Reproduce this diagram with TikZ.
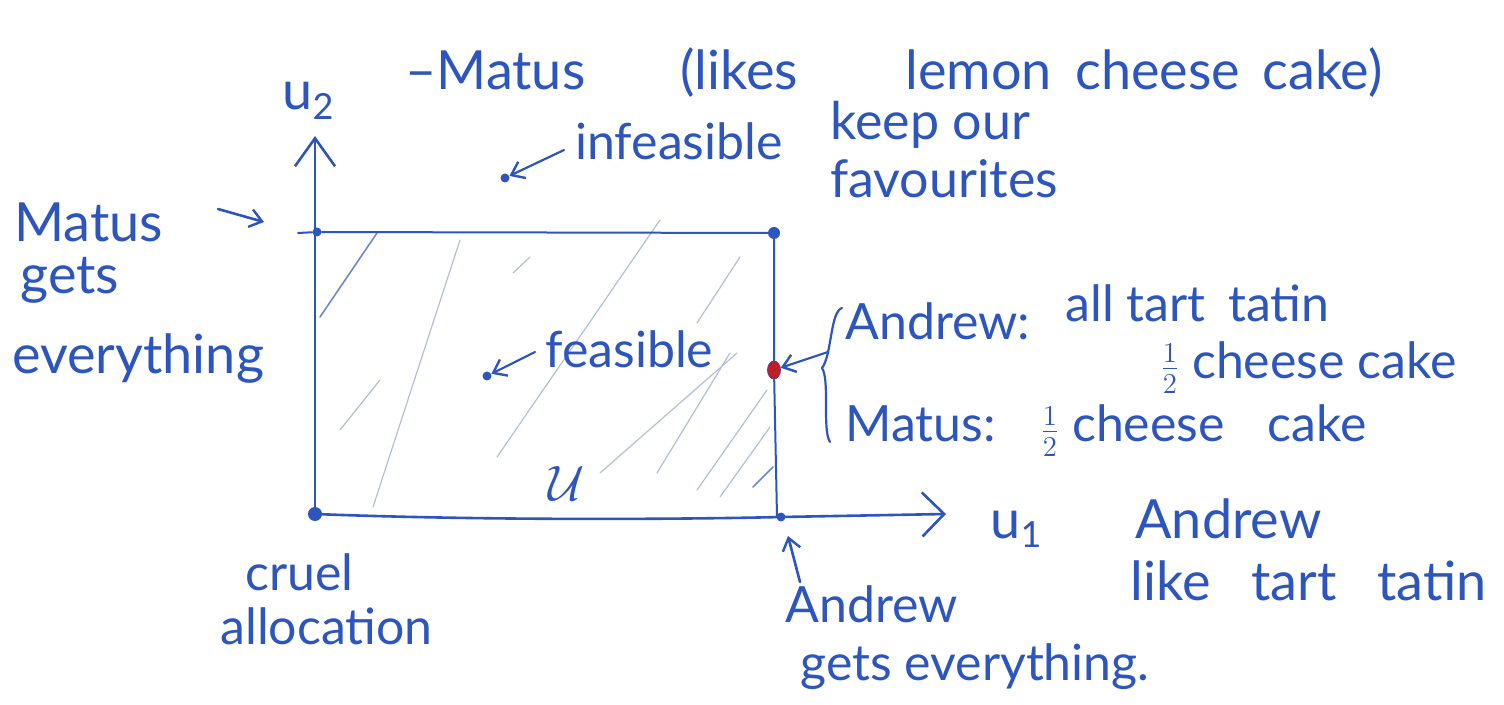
\documentclass[tikz,border=0pt]{standalone}
\usepackage{fontspec}
\setmainfont{Lato}
\usetikzlibrary{arrows.meta,shapes.geometric}
\definecolor{ink}{RGB}{45,85,190}
\definecolor{hatch}{RGB}{180,190,218}
\definecolor{reddot}{RGB}{190,30,40}
\newcommand{\halfsym}{{\fontsize{21}{21}\selectfont$\frac{1}{2}$}}
\tikzset{
  hw/.style={text=ink, anchor=base west, inner sep=0pt, font=\fontsize{25}{30}\selectfont},
  hwbig/.style={hw, font=\fontsize{27}{30}\selectfont},
  inkline/.style={draw=ink, line width=1.3pt, line cap=round, line join=round},
  hatchline/.style={draw=hatch, line width=0.6pt, line cap=round},
  ybarb/.style={-{Straight Barb[length=14pt,width=20pt,line width=1.3pt]}},
  xbarb/.style={-{Straight Barb[length=11pt,width=22pt,line width=1.3pt]}},
  smallbarb/.style={-{Straight Barb[length=6pt,width=9pt,line width=1.2pt]}},
  dot/.style={circle, fill=ink, inner sep=0pt},
}
\begin{document}
\begin{tikzpicture}[x=0.5pt,y=-0.5pt]
\useasboundingbox (0,0) rectangle (1504,705);
\fill[white] (0,0) rectangle (1504,705);

% hatching
\draw[hatchline] (373,507) -- (460,240);
\draw[hatchline] (497,457) -- (660,220);
\draw[hatchline] (513,273) -- (530,257);
\draw[hatchline] (600,473) -- (737,353);
\draw[hatchline] (697,323) -- (740,257);
\draw[hatchline] (657,473) -- (730,353);
\draw[hatchline] (697,490) -- (767,390);
\draw[hatchline] (720,497) -- (770,427);
\draw[hatchline] (340,430) -- (380,380);
\draw[draw=ink!70, line width=0.8pt, line cap=round] (320,317) -- (377,233);
\draw[draw=ink!70, line width=0.8pt, line cap=round] (753,487) -- (773,467);

% dots / coordinates
\node[dot, minimum size=7pt] (O) at (315,514) {};
\node[dot, minimum size=4.5pt] (TL) at (317,232) {};
\node[dot, minimum size=6pt] (TR) at (774,233) {};
\node[dot, minimum size=4.5pt] (BR) at (781,517) {};
\node[ellipse, fill=reddot, draw=ink!60!reddot, inner sep=0pt, minimum width=6.5pt, minimum height=9pt] (R) at (774,370) {};
\node[dot, minimum size=4.5pt] (F) at (487,376) {};
\node[dot, minimum size=4.5pt] (I) at (505,178) {};
\coordinate (Ytop) at (315,136);
\coordinate (Xend) at (946,514);

% axes
\draw[inkline, ybarb] (O) -- (Ytop);
\draw[inkline, xbarb] (O) .. controls (500,521) and (700,519) .. (BR.center) -- (Xend);
% rectangle
\draw[inkline, line width=1pt] (298,233) -- (TL) -- (TR);
\draw[inkline, line width=1pt] (TR) -- (R) -- (777,517);

% axis labels
\node[hwbig] (u2) at (282,110) {u\raisebox{-5pt}{\fontsize{18}{18}\selectfont 2}};
\node[hwbig] (u1) at (990,538) {u\raisebox{-5pt}{\fontsize{18}{18}\selectfont 1}};

% top line
\node[hwbig] (tw1) at (405,90) {–Matus};
\node[hwbig] (tw2) at (680,90) {(likes};
\node[hwbig] (tw3) at (905,90) {lemon};
\node[hwbig] (tw4) at (1075,90) {cheese};
\node[hwbig] (tw5) at (1262,90) {cake)};

% infeasible
\node[hw] (infeas) at (575,160) {infeasible};
\draw[inkline, line width=1.1pt, smallbarb] (564,150) -- (I);
\node[hw, font=\fontsize{26}{30}\selectfont] (keep) at (830,140) {keep our};
\node[hw, font=\fontsize{26}{30}\selectfont] (fav) at (830,198) {favourites};

% Matus gets everything
\node[hwbig] (m1) at (14,242) {Matus};
\node[hwbig] (m2) at (20,294) {gets};
\node[hwbig] (m3) at (12,374) {everything};
\coordinate (marr) at (218,209);
\coordinate (marrtip) at (264,222);
\draw[inkline, smallbarb] (marr) -- (marrtip);

% feasible
\node[hw] (feas) at (545,368) {feasible};
\draw[inkline, line width=1.1pt, smallbarb] (535,352) -- (F);
\node[hwbig] (U) at (548,500) {$\mathcal{U}$};

% red point annotation
\draw[inkline, line width=1.1pt, smallbarb] (828,352) -- (R);
\draw[inkline, line width=1.1pt] (842,308) .. controls (830,312) and (832,355) .. (822,368)
  .. controls (830,380) and (822,430) .. (830,442);
\node[hw] (andrew) at (845,340) {Andrew:};
\node[hw] (alltart) at (1065,322) {all tart\hspace{0.2em} tatin};
\node[hw] (half1) at (1160,379) {\halfsym\ cheese cake};
\node[hw] (matus2) at (845,442) {Matus:};
\node[hw] (half2) at (1040,442) {\halfsym\ cheese\hspace{0.6em} cake};

% u1 labels
\node[hwbig] (andrew2) at (1135,538) {Andrew};
\node[hwbig] (likett) at (1130,600) {like\hspace{0.5em} tart\hspace{0.5em} tatin};

% cruel allocation
\node[hw] (cruel) at (245,590) {cruel};
\node[hw] (alloc) at (220,644) {allocation};

% Andrew gets everything
\coordinate (aarr) at (800,582);
\draw[inkline, smallbarb] (aarr) -- (788,536);
\node[hw] (age1) at (785,622) {Andrew};
\node[hw] (age2) at (800,680) {gets everything.};
\end{tikzpicture}
\end{document}
